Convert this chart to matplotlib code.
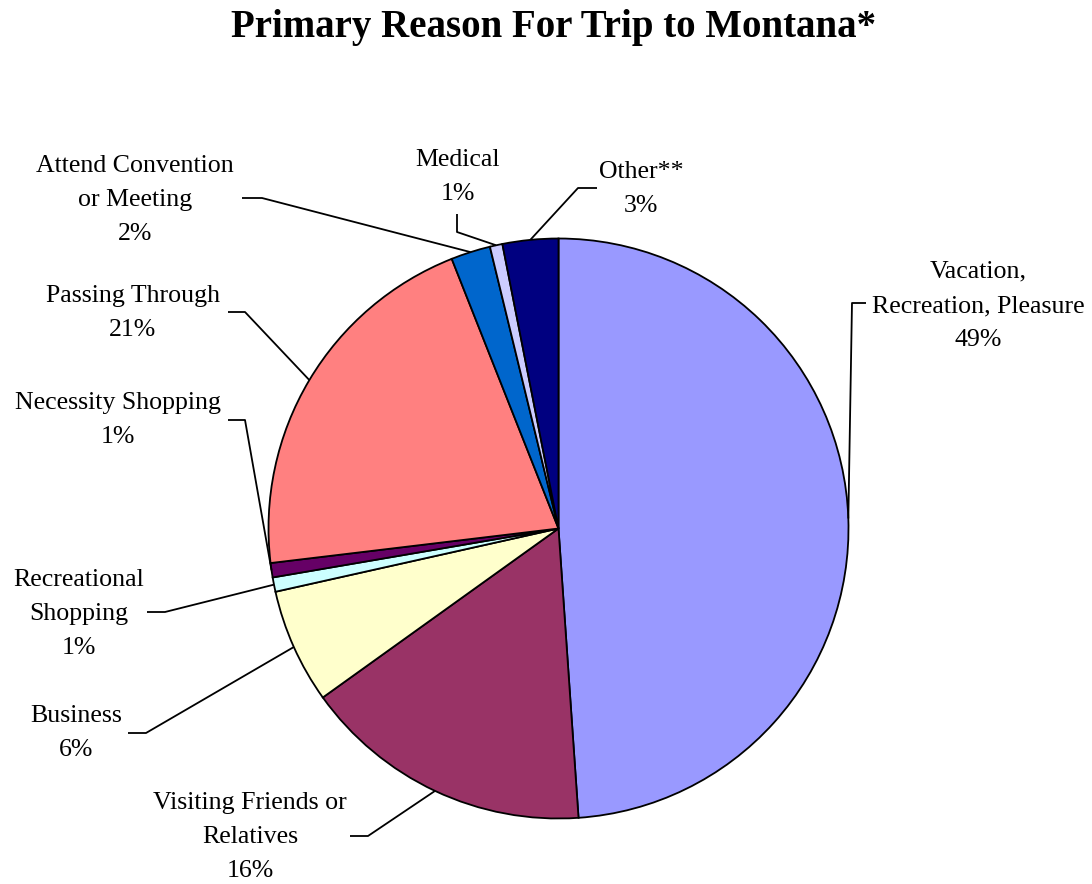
import numpy as np
import matplotlib
matplotlib.use("Agg")
import matplotlib.pyplot as plt

W, H = 1092, 884

reasons = ["Vacation,\nRecreation, Pleasure", "Visiting Friends or\nRelatives", "Business",
           "Recreational\nShopping", "Necessity Shopping", "Passing Through",
           "Attend Convention\nor Meeting", "Medical", "Other**"]
shares = [48.9, 16.2, 6.4, 0.8, 0.8, 20.9, 2.2, 0.7, 3.1]
colors = ["#9999FF", "#993366", "#FFFFCC", "#CCFFFF", "#660066",
          "#FF8080", "#0066CC", "#CCCCFF", "#000080"]

# label centres and leader elbows, in pixels from the top-left corner
label_pos = [(978, 306), (250, 837), (76, 733), (79, 614), (118, 420),
             (133, 313), (135, 200), (458, 177), (641, 189)]
elbows = [[(866, 303), (852, 303)], [(350, 836), (368, 836)], [(128, 733), (146, 733)],
          [(147, 612), (165, 612)], [(228, 420), (245, 420)], [(228, 312), (245, 312)],
          [(242, 198), (262, 198)], [(457, 214), (457, 232)], [(597, 188), (578, 188)]]

cx, cy, r = 558.5, H - 528.5, 290

plt.rcParams["font.family"] = ["Liberation Serif", "DejaVu Serif"]
fig = plt.figure(figsize=(W / 100, H / 100), dpi=100)
ax = fig.add_axes([0, 0, 1, 1])

wedges, _ = ax.pie(shares, colors=colors, startangle=90, counterclock=False,
                   radius=r, center=(cx, cy),
                   wedgeprops=dict(edgecolor="black", linewidth=1.3))
ax.set_xlim(0, W)
ax.set_ylim(0, H)
ax.set_aspect("equal")
ax.axis("off")

for w, name, val, (tx, ty), pts in zip(wedges, reasons, shares, label_pos, elbows):
    mid = np.deg2rad((w.theta1 + w.theta2) / 2)
    ex, ey = cx + r * np.cos(mid), cy + r * np.sin(mid)
    xs = [p[0] for p in pts] + [ex]
    ys = [H - p[1] for p in pts] + [ey]
    ax.plot(xs, ys, color="black", linewidth=1.3, solid_capstyle="butt")
    ax.text(tx, H - ty, f"{name}\n{round(val):.0f}%", ha="center", va="center",
            fontsize=18.6, linespacing=1.72)

fig.text(553.5 / W, 1 - 28 / H, "Primary Reason For Trip to Montana*",
         ha="center", va="center", fontsize=28, fontweight="bold")

fig.savefig("out.png", dpi=100, facecolor="white")
